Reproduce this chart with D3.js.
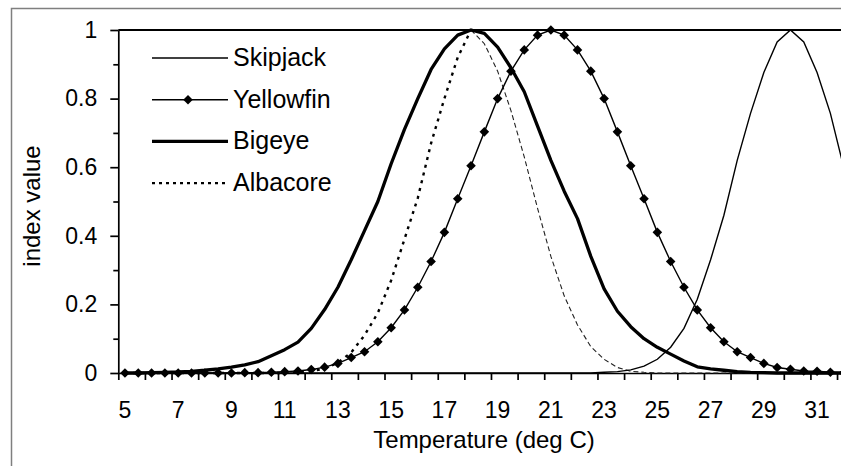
<!DOCTYPE html>
<html>
<head>
<meta charset="utf-8">
<script src="https://cdn.jsdelivr.net/npm/d3@7"></script>
<style>
  html, body { margin: 0; padding: 0; background: #fff; }
  svg { display: block; }
  text { font-family: "Liberation Sans", Arial, sans-serif; fill: #000; }
</style>
</head>
<body>
<svg id="chart" width="841" height="466"></svg>
<script>
// Temperature categories (deg C), sampled every half degree
const temps = [5, 5.5, 6, 6.5, 7, 7.5, 8, 8.5, 9, 9.5, 10, 10.5, 11, 11.5, 12, 12.5,
  13, 13.5, 14, 14.5, 15, 15.5, 16, 16.5, 17, 17.5, 18, 18.5, 19, 19.5, 20, 20.5,
  21, 21.5, 22, 22.5, 23, 23.5, 24, 24.5, 25, 25.5, 26, 26.5, 27, 27.5, 28, 28.5,
  29, 29.5, 30, 30.5, 31, 31.5, 32];

const xTickLabels = [5, 7, 9, 11, 13, 15, 17, 19, 21, 23, 25, 27, 29, 31];
const yTickLabels = [0, 0.2, 0.4, 0.6, 0.8, 1];
const yMinorTicks = [0.1, 0.3, 0.5, 0.7, 0.9];

// Habitat index per species
const skipjack = [0, 0, 0, 0, 0, 0, 0, 0, 0, 0, 0, 0, 0, 0, 0, 0,
  0, 0, 0, 0, 0, 0, 0, 0, 0, 0, 0, 0, 0, 0, 0, 0,
  0, 0, 0, 0, 0.002, 0.004, 0.009, 0.02, 0.04, 0.075, 0.13, 0.215, 0.33, 0.46, 0.62, 0.757,
  0.876, 0.965, 1, 0.965, 0.876, 0.757, 0.6];

const yellowfin = [0, 0, 0, 0, 0, 0, 0, 0, 0, 0.001, 0.001, 0.002, 0.004, 0.006, 0.01, 0.017,
  0.028, 0.045, 0.062, 0.091, 0.132, 0.184, 0.25, 0.325, 0.41, 0.508, 0.604, 0.703, 0.8, 0.88, 0.942, 0.985,
  1, 0.985, 0.942, 0.88, 0.8, 0.703, 0.604, 0.508, 0.41, 0.325, 0.25, 0.184, 0.132, 0.091, 0.062, 0.045,
  0.028, 0.016, 0.011, 0.006, 0.005, 0.002, 0.001];

const bigeye = [0, 0, 0.001, 0.002, 0.003, 0.005, 0.008, 0.012, 0.017, 0.024, 0.033, 0.05, 0.068, 0.09, 0.13, 0.185,
  0.25, 0.33, 0.415, 0.5, 0.61, 0.71, 0.8, 0.885, 0.945, 0.985, 1, 0.99, 0.95, 0.89, 0.82, 0.72,
  0.62, 0.53, 0.45, 0.34, 0.245, 0.18, 0.135, 0.1, 0.075, 0.055, 0.035, 0.018, 0.012, 0.008, 0.004, 0.002,
  0.001, 0, 0, 0, 0, 0, 0];

const albacore = [0, 0, 0, 0, 0, 0, 0, 0, 0, 0, 0, 0, 0, 0.002, 0.005, 0.013,
  0.03, 0.06, 0.11, 0.175, 0.27, 0.39, 0.51, 0.67, 0.8, 0.92, 1, 0.96, 0.88, 0.765, 0.63, 0.48,
  0.34, 0.225, 0.14, 0.077, 0.04, 0.016, 0.005, 0.002, 0, 0, 0, 0, 0, 0, 0, 0,
  0, 0, 0, 0, 0, 0, 0];

const svg = d3.select("#chart");

const plotLeft = 118.3, catW = 13.31, plotTop = 30, plotBottom = 373;
const idx = d3.range(temps.length);

// category band scale (points sit in band centres) and a boundary scale for tick marks
const x = d3.scaleBand().domain(idx).range([plotLeft, plotLeft + temps.length * catW]).padding(0);
const xb = d3.scaleLinear().domain([0, temps.length]).range([plotLeft, plotLeft + temps.length * catW]);
const y = d3.scaleLinear().domain([0, 1]).range([plotBottom, plotTop]);
const cx = i => x(i) + x.bandwidth() / 2;

// outer chart frame
svg.append("rect")
  .attr("x", 11.5).attr("y", 8.5).attr("width", 900).attr("height", 500)
  .attr("fill", "none").attr("stroke", "#7f7f7f").attr("stroke-width", 1.5);

// plot-area top border
svg.append("line")
  .attr("x1", plotLeft).attr("x2", 900).attr("y1", y(1)).attr("y2", y(1))
  .attr("stroke", "#000").attr("stroke-width", 2);

// y axis
const yAxis = svg.append("g").attr("transform", `translate(${plotLeft},0)`)
  .call(d3.axisLeft(y).tickValues(yTickLabels).tickSize(8).tickSizeOuter(0).tickPadding(13)
    .tickFormat(d => String(+d.toFixed(1))));
svg.append("g").attr("transform", `translate(${plotLeft},0)`)
  .call(d3.axisLeft(y).tickValues(yMinorTicks).tickSize(5).tickSizeOuter(0).tickFormat(""))
  .call(g => g.select(".domain").remove());
yAxis.selectAll("text").attr("font-size", 23).attr("font-family", "Liberation Sans, Arial, sans-serif")
  .attr("fill", "#000");

// x axis: tick marks at every second category boundary
const evenBounds = d3.range(0, temps.length + 1, 2);
svg.append("g").attr("transform", `translate(0,${plotBottom})`)
  .call(d3.axisBottom(xb).tickValues(evenBounds).tickSize(7).tickSizeOuter(0).tickFormat(""));

// x labels at category centres
const labelIdx = idx.filter(i => xTickLabels.includes(temps[i]));
svg.append("g").selectAll("text").data(labelIdx).join("text")
  .attr("x", cx).attr("y", 418)
  .attr("text-anchor", "middle").attr("font-size", 23)
  .text(i => temps[i]);

svg.selectAll(".domain, .tick line").attr("stroke", "#000").attr("stroke-width", 1.7);

// axis titles
svg.append("text").attr("x", 484).attr("y", 448)
  .attr("text-anchor", "middle").attr("font-size", 24).text("Temperature (deg C)");
svg.append("text").attr("transform", "translate(40,206) rotate(-90)")
  .attr("text-anchor", "middle").attr("font-size", 24).text("index value");

// series lines
const line = vals => d3.line().x(cx).y(i => y(vals[i]))(idx);
const lineRange = (vals, from, to) =>
  d3.line().x(cx).y(i => y(vals[i]))(idx.filter(i => i >= from && i <= to));

const peakA = albacore.indexOf(d3.max(albacore));

svg.append("path").attr("d", lineRange(albacore, 0, peakA))
  .attr("fill", "none").attr("stroke", "#000").attr("stroke-width", 2.4)
  .attr("stroke-dasharray", "3,5");
svg.append("path").attr("d", lineRange(albacore, peakA, idx.length - 1))
  .attr("fill", "none").attr("stroke", "#222").attr("stroke-width", 1.1)
  .attr("stroke-dasharray", "5,3");

svg.append("path").attr("d", line(bigeye))
  .attr("fill", "none").attr("stroke", "#000").attr("stroke-width", 3.3)
  .attr("stroke-linejoin", "round");

svg.append("path").attr("d", line(skipjack))
  .attr("fill", "none").attr("stroke", "#000").attr("stroke-width", 1.4);

svg.append("path").attr("d", line(yellowfin))
  .attr("fill", "none").attr("stroke", "#000").attr("stroke-width", 1.4);

const diamond = d3.symbol(d3.symbolSquare, 46)();
svg.append("g").selectAll("path").data(idx).join("path")
  .attr("d", diamond)
  .attr("transform", i => `translate(${cx(i)},${y(yellowfin[i])}) rotate(45)`)
  .attr("fill", "#000");

// legend
const legendItems = [
  { name: "Skipjack", width: 1.4, dash: null, marker: false },
  { name: "Yellowfin", width: 1.4, dash: null, marker: true },
  { name: "Bigeye", width: 3.4, dash: null, marker: false },
  { name: "Albacore", width: 2.2, dash: "3,4", marker: false }
];
const lg = svg.append("g").selectAll("g").data(legendItems).join("g")
  .attr("transform", (d, i) => `translate(0,${58 + i * 41.7})`);
lg.append("line").attr("x1", 152).attr("x2", 228)
  .attr("stroke", "#000").attr("stroke-width", d => d.width)
  .attr("stroke-dasharray", d => d.dash);
lg.filter(d => d.marker).append("path").attr("d", diamond)
  .attr("transform", "translate(188,0) rotate(45)").attr("fill", "#000");
lg.append("text").attr("x", 233).attr("y", 8).attr("font-size", 25).text(d => d.name);
</script>
</body>
</html>
